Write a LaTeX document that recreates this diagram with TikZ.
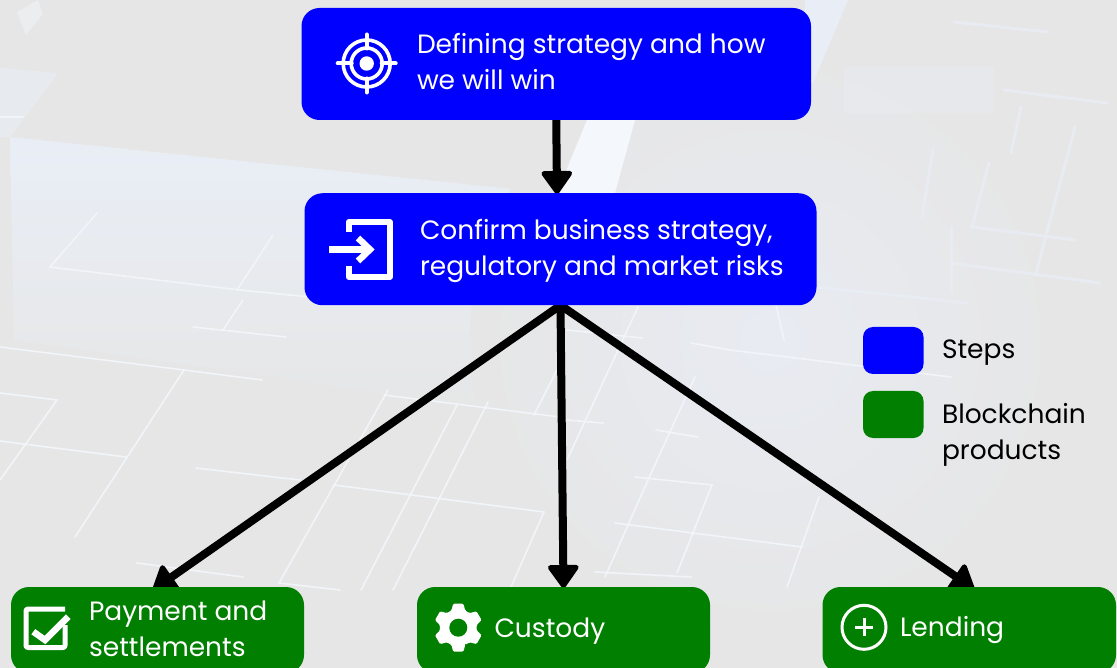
\documentclass[tikz,border=0pt]{standalone}
\usepackage{fontspec}
\setmainfont{Poppins}
\usetikzlibrary{arrows.meta,calc}
\pgfdeclarelayer{photo}
\pgfdeclarelayer{edges}
\pgfsetlayers{photo,edges,main}
\definecolor{bgc}{HTML}{E6E6E6}
\definecolor{band}{HTML}{E9EEF6}
\definecolor{bandb}{HTML}{E8EBF2}
\definecolor{glow}{HTML}{F4F8FD}
\definecolor{stepc}{HTML}{0000FF}
\definecolor{prodc}{HTML}{007F00}
\tikzset{
  x=1pt,y=-1pt,
  box/.style={rectangle,inner sep=0pt,outer sep=0pt,rounded corners=18pt,minimum width=#1},
  stepbox/.style={box=#1,fill=stepc,minimum height=112pt},
  prodbox/.style={box=#1,fill=prodc,minimum height=86pt},
  keybox/.style={rectangle,inner sep=0pt,outer sep=0pt,rounded corners=10pt,minimum width=60.5pt,minimum height=47pt,fill=#1},
  lab/.style={anchor=west,inner sep=0pt,outer sep=0pt,align=left,text=white,font=\fontsize{26.5}{36}\selectfont},
  keylab/.style={lab,text=black},
  link/.style={line width=8pt,draw=black,-{Triangle[length=25pt,width=34pt,line width=5pt,round]}},
  pl/.style={draw=glow,line width=1.6pt,opacity=.8,line cap=round},
  pf/.style={draw=band,line width=3pt,opacity=.7,line cap=round},
  ico/.style={draw=white,line width=#1,fill=none}
}
\begin{document}
\begin{tikzpicture}
\useasboundingbox (0,0) rectangle (1117,668);
\begin{pgfonlayer}{photo}
\fill[bgc] (0,0) rectangle (1117,668);
% soft patches
\shade[top color=band,bottom color=bgc] (10,137) -- (570,195) -- (570,420) -- (14,340) -- cycle;
\shade[inner color=bandb,outer color=bgc] (770,340) circle (300);
\fill[band,opacity=.5] (0,68) -- (58,73) -- (10,137) -- (0,137) -- cycle;
\fill[glow,opacity=.4] (17,12) -- (38,0) -- (43,14) -- (26,35) -- cycle;
\fill[band,opacity=.35] (844,67) rectangle (994,113);
\fill[glow] (557,193) -- (587,120) -- (635,120) -- (615,193) -- cycle;
\fill[band] (805,0) -- (848,0) -- (813,83) -- (805,83) -- cycle;
% fine lines, lower left
\draw[pl] (0,347) -- (184,370) -- (262,380);
\draw[pl] (184,370) -- (75,537);
\draw[pl] (0,393) -- (57,400) -- (0,480);
\draw[pl] (0,441) -- (126,457);
\draw[pl] (193,327) -- (286,337);
\draw[pl] (243,300) -- (223,330);
\draw[pl] (388,390) -- (279,583) -- (340,590);
\draw[pl] (384,395) -- (560,417);
\draw[pl] (457,405) -- (361,590);
\draw[pl] (488,402) -- (393,590);
\draw[pl] (334,485) -- (544,512) -- (511,587);
\draw[pl] (557,370) -- (534,415);
\draw[pl] (196,468) -- (300,480);
\draw[pl] (137,563) -- (243,577);
\draw[pl] (50,267) -- (240,290) -- (310,297);
\draw[pl] (50,267) -- (97,213);
\draw[pl] (237,290) -- (273,235);
\draw[pl] (0,117) -- (23,117);
% fine lines, lower right
\draw[pl] (638,307) -- (567,460);
\draw[pl] (567,330) -- (642,338);
\draw[pl] (691,343) -- (730,350) -- (951,377);
\draw[pl] (695,377) -- (648,480) -- (605,577);
\draw[pl] (635,477) -- (712,485) -- (677,573);
\draw[pl] (615,523) -- (802,547);
\draw[pl] (656,430) -- (698,437);
\draw[pl] (819,497) -- (787,587);
\draw[pl] (595,572) -- (691,577);
\draw[pl] (567,420) -- (603,423);
\draw[pl] (776,305) -- (784,340);
% fine lines, upper right
\draw[pf] (954,22) -- (1047,32);
\draw[pf] (1004,90) -- (1107,103);
\draw[pf] (1021,107) -- (1011,153);
\draw[pf] (1075,127) -- (1036,273);
\draw[pf] (989,163) -- (972,227) -- (1075,240);
\draw[pf] (951,263) -- (1100,283);
\draw[pf] (816,287) -- (968,303);
\draw[pf] (933,150) -- (922,217);
\draw[pf] (951,227) -- (951,293);
\end{pgfonlayer}

% boxes
\node[stepbox=509.5pt] (strategy) at (556.25,64) {};
\node[stepbox=512pt] (confirm) at (560.5,249.25) {};
\node[prodbox=293pt] (payment) at (157.5,630) {};
\node[prodbox=293pt] (custody) at (563.5,630) {};
\node[prodbox=293.5pt] (lending) at (969.25,630) {};
\node[keybox=stepc] (keysteps) at (893.25,350.5) {};
\node[keybox=prodc] (keyprod) at (893.25,414.5) {};

% labels
\node[lab] (t1) at (417,61.5) {Defining strategy and how\\we will win};
\node[lab] (t2) at (420,251) {Confirm business strategy,\\regulatory and market risks};
\node[lab] (t3) at (89,629) {Payment and\\settlements};
\node[lab] (t4) at (494.5,631) {Custody};
\node[lab] (t5) at (900,630) {Lending};
\node[keylab] (k1) at (942,352.5) {Steps};
\node[keylab] (k2) at (942,435) {Blockchain\\products};

% connectors
\coordinate (intoconfirm) at (557,194);
\coordinate (intopay) at (153,590);
\coordinate (intocust) at (563.5,588);
\coordinate (intolend) at (974,589);
\begin{pgfonlayer}{edges}
\draw[link] (strategy.south) -- (intoconfirm);
\draw[link] (confirm.south) -- (intopay);
\draw[link] (confirm.south) -- (intocust);
\draw[link] (confirm.south) -- (intolend);
\end{pgfonlayer}

% target icon
\begin{scope}[shift={(366.7,63.5)}]
\draw[ico=3.6pt] (0,0) circle (23.5);
\draw[ico=3.6pt] (0,0) circle (15.5);
\fill[white] (0,0) circle (7.2);
\draw[ico=4pt,line cap=round] (-29,0) -- (-15,0) (15,0) -- (29,0) (0,-29) -- (0,-15) (0,15) -- (0,29);
\end{scope}

% enter icon
\draw[ico=6pt,line join=round] (348.7,232) -- (348.7,222) -- (389.7,222) -- (389.7,277) -- (348.7,277) -- (348.7,266.5);
\draw[ico=7pt] (329,249.5) -- (369,249.5);
\draw[ico=6.5pt] (358,238) -- (370,249.5) -- (358,261);

% check icon
\draw[ico=5pt,line join=round,rounded corners=2pt] (65,609) -- (26,609) -- (26,647.5) -- (65,647.5) -- (65,625);
\draw[ico=6.5pt] (33.3,631.7) -- (45,640) -- (68.3,616.7);

% gear icon
\begin{scope}[shift={(458.3,627.7)}]
\fill[white,rounded corners=1.2pt] (68:18.5)
  foreach \a in {90,150,210,270,330,390}{ -- (\a-22:18.5) -- (\a-12:24.5) -- (\a+12:24.5) -- (\a+22:18.5)} -- cycle;
\fill[prodc] (0,0) circle (9);
\end{scope}

% plus icon
\begin{scope}[shift={(864,627.3)}]
\draw[ico=3pt] (0,0) circle (22);
\draw[ico=3pt] (-9,0) -- (9,0) (0,-9) -- (0,9);
\end{scope}
\end{tikzpicture}
\end{document}
